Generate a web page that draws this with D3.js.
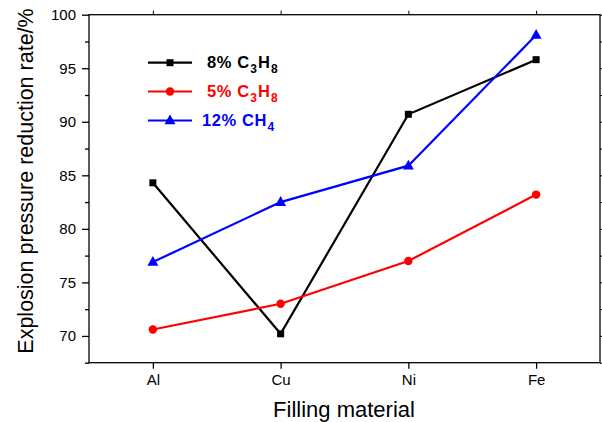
<!DOCTYPE html>
<html><head><meta charset="utf-8">
<script src="https://cdn.jsdelivr.net/npm/d3@7"></script>
<style>body{margin:0;background:#fff}svg{display:block}text{font-family:"Liberation Sans",Arial,sans-serif}</style>
</head><body>
<svg id="c" width="602" height="422"></svg>
<script>
const categories = ["Al","Cu","Ni","Fe"];
const s8C3H8 = [84.3, 70.2, 90.7, 95.8];
const s5C3H8 = [70.6, 73.0, 77.0, 83.2];
const s12CH4 = [76.9, 82.5, 85.9, 98.1];
const yTicks = [70, 75, 80, 85, 90, 95, 100];
const yMinor = [67.5, 72.5, 77.5, 82.5, 87.5, 92.5, 97.5];

const series = [
  {name:["8% C","3","H","8"], values:s8C3H8, color:"#000000", marker:"square"},
  {name:["5% C","3","H","8"], values:s5C3H8, color:"#ff0000", marker:"circle"},
  {name:["12% CH","4"], values:s12CH4, color:"#0000ff", marker:"triangle"}
];

const svg = d3.select("#c");
const L=89, R=600, T=14.7, B=362.7;
const x = d3.scaleLinear().domain([-0.5, categories.length-0.5]).range([L, R]);
const y = d3.scaleLinear().domain([67.5, 100]).range([B, T]);

// frame
svg.append("rect").attr("x",L).attr("y",T).attr("width",R-L).attr("height",B-T)
  .attr("fill","none").attr("stroke","#000").attr("stroke-width",1.3);

// bottom axis
const bx = svg.append("g").attr("transform",`translate(0,${B})`)
  .call(d3.axisBottom(x).tickValues(categories.map((d,i)=>i)).tickFormat(i=>categories[i]).tickSizeInner(6).tickSizeOuter(0).tickPadding(6));
bx.select(".domain").remove();
bx.selectAll("line").attr("stroke-width",1.3);
bx.selectAll("text").attr("font-size",15).attr("fill","#000");

// top axis ticks
const tx = svg.append("g").attr("transform",`translate(0,${T})`)
  .call(d3.axisTop(x).tickValues(categories.map((d,i)=>i)).tickFormat("").tickSizeInner(4).tickSizeOuter(0));
tx.select(".domain").remove();
tx.selectAll("line").attr("stroke-width",1);

// left axis
const ly = svg.append("g").attr("transform",`translate(${L},0)`)
  .call(d3.axisLeft(y).tickValues(yTicks).tickSizeInner(7).tickSizeOuter(0).tickPadding(6));
ly.select(".domain").remove();
ly.selectAll("line").attr("stroke-width",1.3);
ly.selectAll("text").attr("font-size",15).attr("fill","#000");
const lym = svg.append("g").attr("transform",`translate(${L},0)`)
  .call(d3.axisLeft(y).tickValues(yMinor).tickFormat("").tickSizeInner(4).tickSizeOuter(0));
lym.select(".domain").remove();
lym.selectAll("line").attr("stroke-width",1.3);

// right axis ticks
const ry = svg.append("g").attr("transform",`translate(${R},0)`)
  .call(d3.axisRight(y).tickValues(yTicks.concat(yMinor)).tickFormat("").tickSizeInner(4).tickSizeOuter(0));
ry.select(".domain").remove();
ry.selectAll("line").attr("stroke-width",1);

// axis titles
svg.append("text").attr("x",344).attr("y",416.5).attr("text-anchor","middle")
  .attr("font-size",22).attr("fill","#000").text("Filling material");
svg.append("text").attr("transform",`translate(33,181) rotate(-90)`).attr("text-anchor","middle")
  .attr("font-size",21.5).attr("fill","#000").text("Explosion pressure reduction rate/%");

// lines & markers
const line = d3.line().x((d,i)=>x(i)).y(d=>y(d));
function drawMarker(g, type, cx, cy, color){
  if(type==="square") g.append("rect").attr("x",cx-3.5).attr("y",cy-3.5).attr("width",7).attr("height",7).attr("fill",color);
  else if(type==="circle") g.append("circle").attr("cx",cx).attr("cy",cy).attr("r",4.2).attr("fill",color);
  else g.append("path").attr("d",`M${cx},${cy-6}L${cx+5.5},${cy+3.8}L${cx-5.5},${cy+3.8}Z`).attr("fill",color);
}
series.forEach(s=>{
  svg.append("path").datum(s.values).attr("d",line).attr("fill","none")
    .attr("stroke",s.color).attr("stroke-width",2.2).attr("stroke-linejoin","miter");
  const g = svg.append("g");
  s.values.forEach((v,i)=>drawMarker(g, s.marker, x(i), y(v), s.color));
});

// legend
const legY=[62.7, 91.5, 120.5], legTx=[207, 207, 202];
series.forEach((s,k)=>{
  const g = svg.append("g");
  g.append("line").attr("x1",148).attr("x2",192).attr("y1",legY[k]).attr("y2",legY[k])
    .attr("stroke",s.color).attr("stroke-width",2.2);
  drawMarker(g, s.marker, 170, legY[k], s.color);
  const t = g.append("text").attr("x",legTx[k]).attr("y",legY[k]+5.5).attr("font-size",16.5)
    .attr("font-weight","bold").attr("fill",s.color).attr("letter-spacing",0.6);
  s.name.forEach((part,j)=>{
    const ts = t.append("tspan").text(part);
    if(j%2===1) ts.attr("font-size",12).attr("dy",4.5).attr("dx",0.5);
    else if(j>0) ts.attr("dy",-4.5).attr("dx",0.5);
  });
});
</script>
</body></html>
